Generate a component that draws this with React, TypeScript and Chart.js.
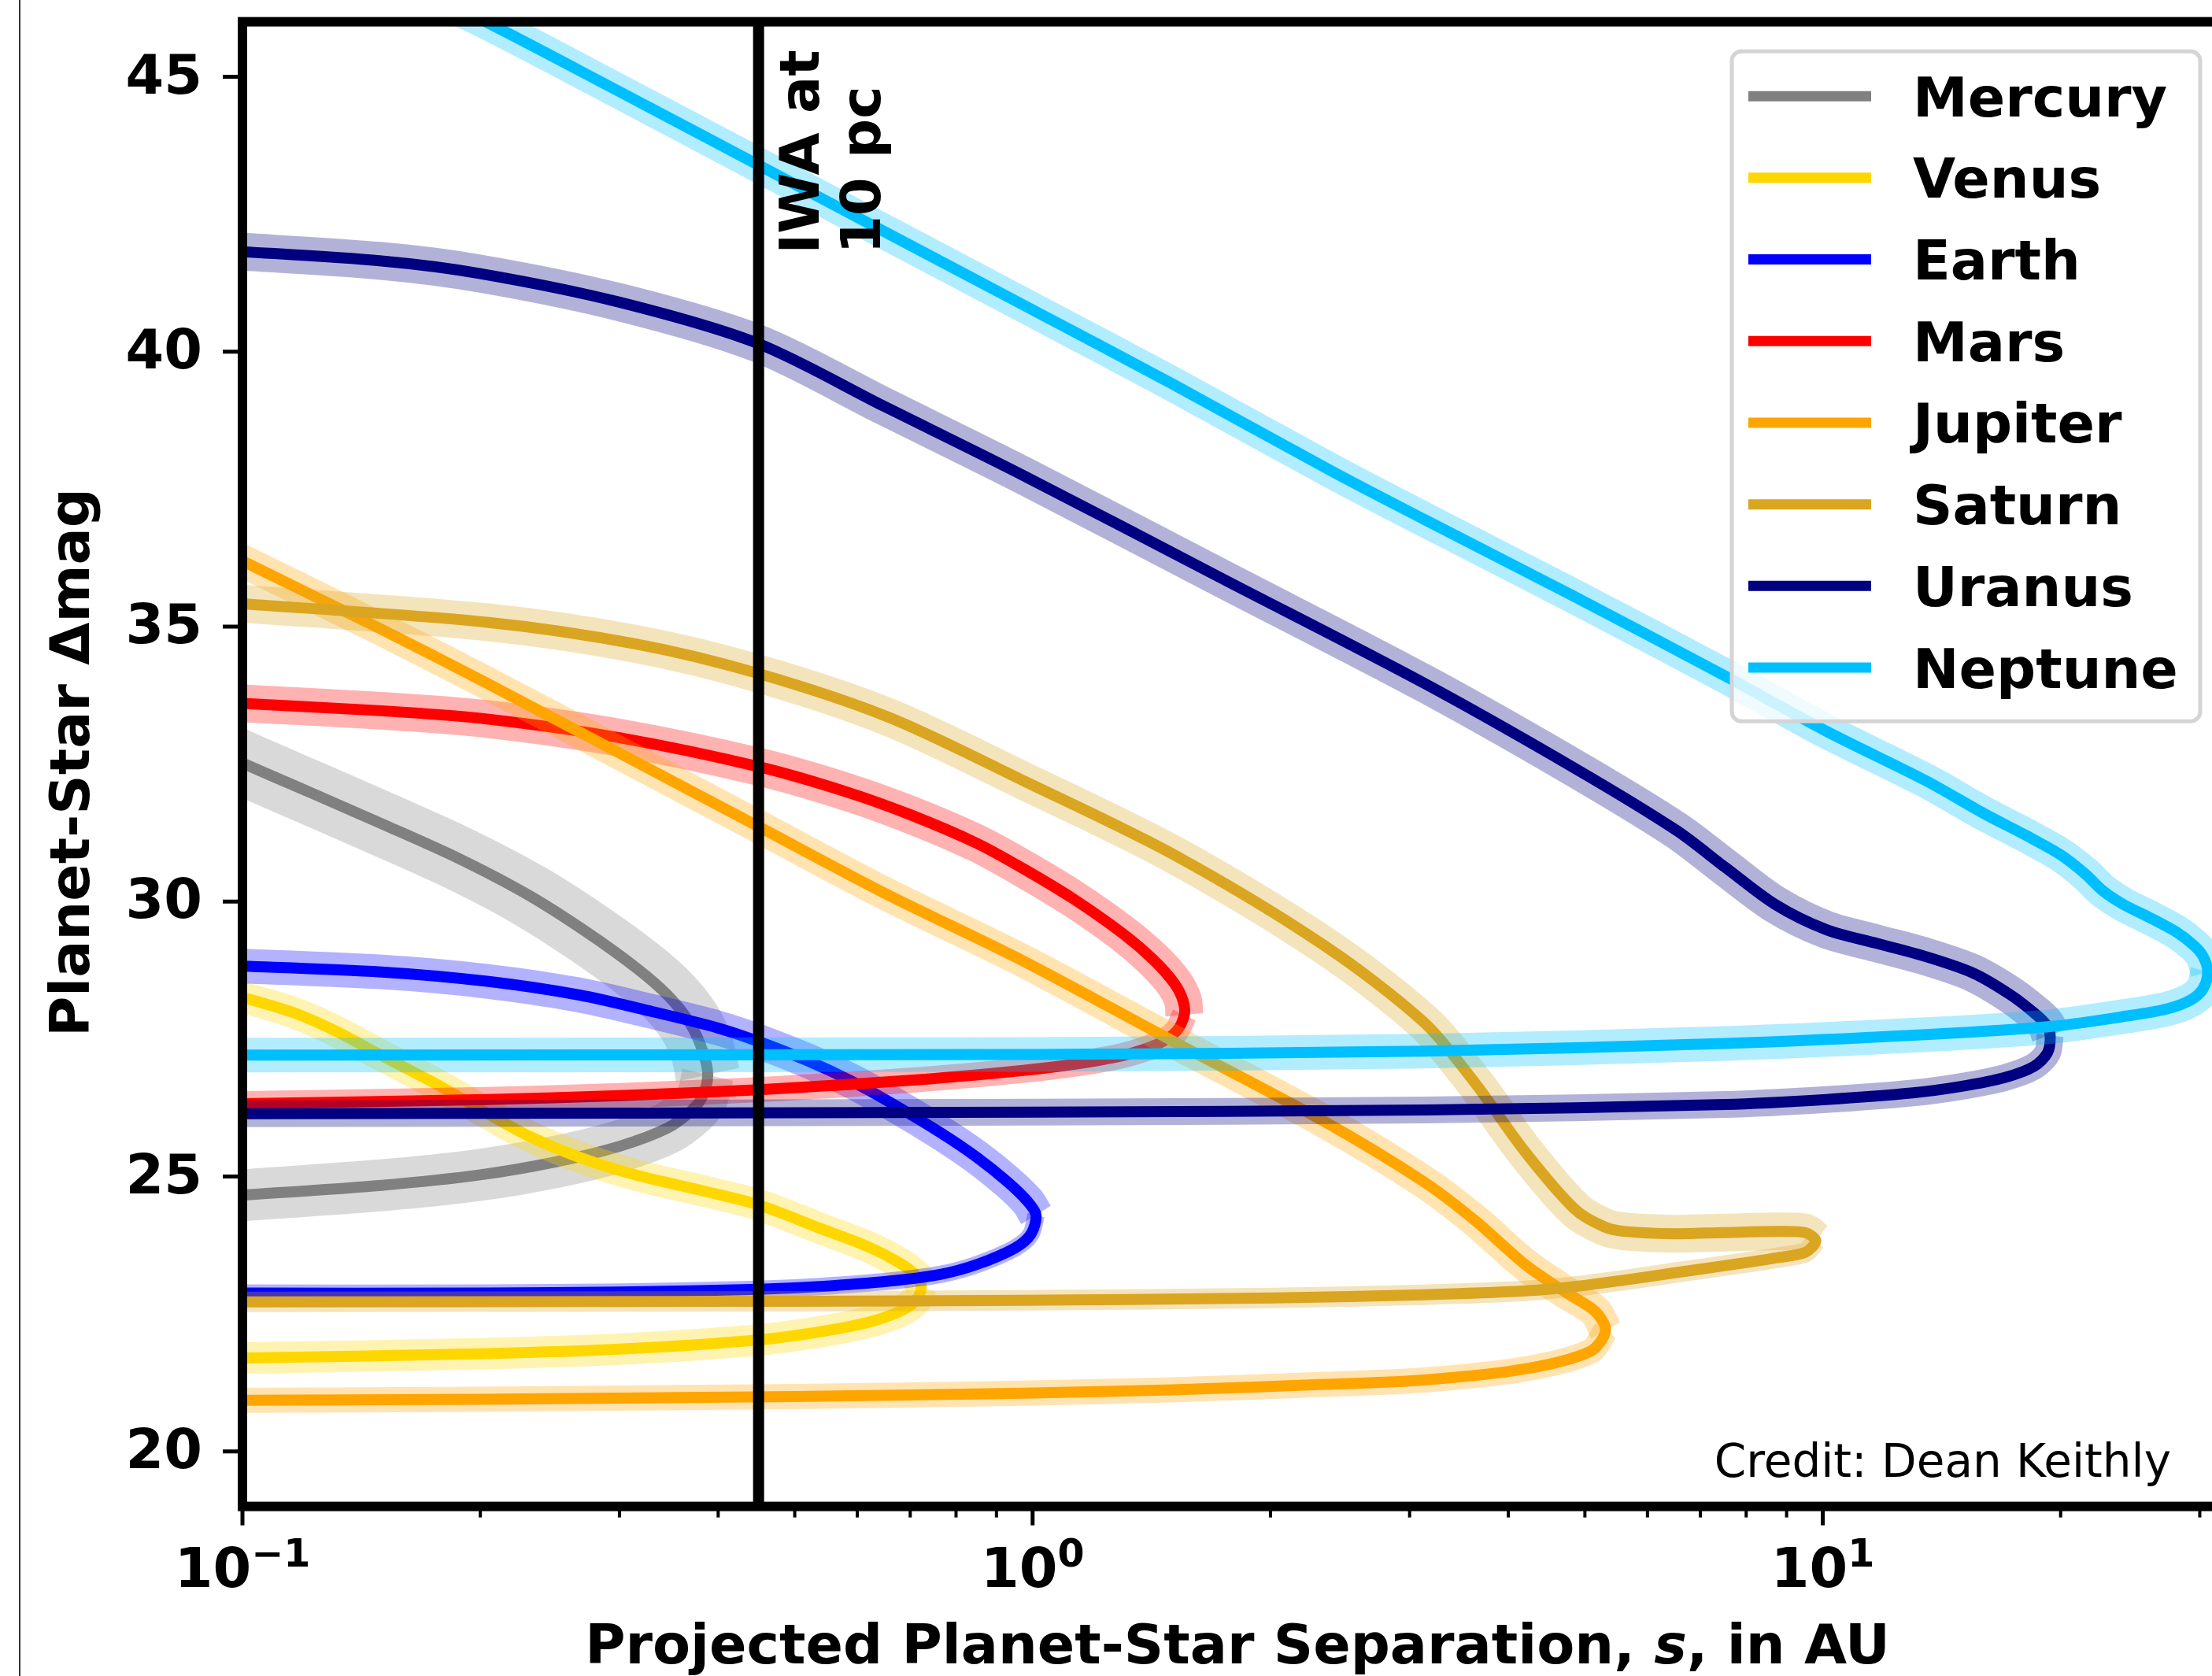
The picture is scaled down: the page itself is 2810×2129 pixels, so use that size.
import React, { useEffect, useRef } from "react";
import { Chart, registerables } from "chart.js";

Chart.register(...registerables);

type Pt = [number, number];

// ---------- data: [projected separation s (AU), planet-star delta-mag] ----------
// each upper branch runs from small s out to the maximum separation,
// each lower branch runs from that turning point back to small s

const PLANETS = ["Mercury", "Venus", "Earth", "Mars", "Jupiter", "Saturn", "Uranus", "Neptune"];
const COLORS = ["#808080", "#FFD700", "#0000FF", "#FF0000", "#FFA500", "#DAA520", "#000080", "#00BFFF"];

const mercuryUpper: Pt[] = [[0.095, 32.68], [0.1, 32.52], [0.122, 31.98], [0.152, 31.38], [0.188, 30.78], [0.23, 30.12], [0.273, 29.44], [0.316, 28.78], [0.345, 28.3], [0.368, 27.8], [0.382, 27.3], [0.388, 26.85]];
const mercuryLower: Pt[] = [[0.388, 26.85], [0.382, 26.45], [0.37, 26.2], [0.345, 25.88], [0.3, 25.55], [0.25, 25.27], [0.2, 25.03], [0.15, 24.84], [0.1, 24.66], [0.095, 24.64]];

const venusUpper: Pt[] = [[0.095, 28.35], [0.115, 28.0], [0.131, 27.65], [0.15, 27.2], [0.176, 26.68], [0.204, 26.15], [0.23, 25.74], [0.267, 25.35], [0.316, 25.02], [0.38, 24.75], [0.451, 24.48], [0.54, 24.05], [0.62, 23.72], [0.68, 23.42], [0.712, 23.2], [0.723, 23.0]];
const venusLower: Pt[] = [[0.723, 23.0], [0.712, 22.75], [0.68, 22.55], [0.62, 22.35], [0.54, 22.18], [0.451, 22.03], [0.3, 21.86], [0.204, 21.78], [0.101, 21.7], [0.095, 21.7]];

const earthUpper: Pt[] = [[0.095, 28.84], [0.15, 28.72], [0.204, 28.55], [0.267, 28.3], [0.33, 28.0], [0.4, 27.7], [0.451, 27.45], [0.52, 27.1], [0.587, 26.75], [0.66, 26.35], [0.764, 25.8], [0.85, 25.35], [0.93, 24.9], [0.985, 24.55], [1.01, 24.3]];
const earthLower: Pt[] = [[1.01, 24.3], [0.995, 23.95], [0.95, 23.7], [0.85, 23.4], [0.764, 23.22], [0.66, 23.1], [0.538, 23.0], [0.451, 22.95], [0.3, 22.9], [0.204, 22.88], [0.095, 22.88]];

const marsUpper: Pt[] = [[0.095, 33.62], [0.15, 33.47], [0.204, 33.32], [0.3, 32.98], [0.451, 32.45], [0.58, 32.0], [0.7, 31.58], [0.85, 31.06], [0.973, 30.6], [1.126, 30.05], [1.3, 29.42], [1.42, 28.95], [1.51, 28.52], [1.55, 28.2], [1.556, 27.94]];
const marsLower: Pt[] = [[1.556, 27.94], [1.52, 27.64], [1.44, 27.41], [1.3, 27.2], [1.126, 27.04], [0.973, 26.93], [0.7, 26.75], [0.451, 26.58], [0.3, 26.47], [0.204, 26.4], [0.095, 26.32]];

const jupiterUpper: Pt[] = [[0.095, 36.35], [0.15, 34.95], [0.204, 33.97], [0.3, 32.7], [0.449, 31.37], [0.65, 30.15], [0.973, 28.92], [1.51, 27.45], [2.34, 26.0], [3.13, 24.9], [3.63, 24.2], [4.2, 23.4], [4.72, 22.9], [5.15, 22.55], [5.31, 22.2]];
const jupiterLower: Pt[] = [[5.31, 22.2], [5.08, 21.82], [4.2, 21.5], [3.13, 21.3], [2.34, 21.22], [1.5, 21.12], [0.973, 21.06], [0.5, 21.0], [0.2, 20.95], [0.095, 20.93]];

const saturnUpper: Pt[] = [[0.095, 35.44], [0.204, 35.08], [0.316, 34.68], [0.449, 34.15], [0.658, 33.35], [0.973, 32.2], [1.51, 30.85], [2.34, 29.2], [3.13, 27.8], [3.63, 26.7], [4.2, 25.45], [4.86, 24.4], [5.3, 24.08], [5.63, 24.0], [6.5, 23.96], [7.5, 23.98], [8.7, 24.0], [9.5, 23.98], [9.8, 23.83]];
const saturnLower: Pt[] = [[9.8, 23.83], [9.5, 23.62], [8.73, 23.52], [7.53, 23.38], [6.5, 23.25], [5.63, 23.12], [4.86, 23.0], [4.2, 22.92], [3.13, 22.85], [2.02, 22.79], [0.973, 22.75], [0.5, 22.73], [0.095, 22.72]];

const uranusUpper: Pt[] = [[0.095, 41.84], [0.15, 41.65], [0.2, 41.42], [0.3, 40.9], [0.449, 40.15], [0.65, 39.0], [0.973, 37.75], [1.75, 35.85], [3.13, 33.97], [4.86, 32.42], [6.52, 31.3], [7.53, 30.62], [8.7, 29.95], [10.1, 29.49], [11.7, 29.24], [13.5, 29.0], [15.5, 28.7], [17.3, 28.3], [18.6, 27.95], [19.2, 27.75], [19.4, 27.57]];
const uranusLower: Pt[] = [[19.4, 27.57], [19.25, 27.25], [18.5, 27.0], [17.0, 26.8], [15.0, 26.64], [13.0, 26.52], [10.1, 26.4], [7.53, 26.31], [3.13, 26.21], [1.0, 26.17], [0.095, 26.14]];

const neptuneUpper: Pt[] = [[0.17, 46.5], [0.2, 46.05], [0.3, 44.73], [0.449, 43.4], [0.65, 42.18], [1.0, 40.76], [1.5, 39.42], [2.41, 37.8], [3.13, 36.95], [4.86, 35.54], [7.53, 34.1], [10.1, 33.1], [13.5, 32.2], [16.0, 31.6], [18.1, 31.2], [20.0, 30.85], [21.5, 30.5], [22.6, 30.2], [24.0, 29.95], [26.0, 29.7], [28.0, 29.45], [29.5, 29.2], [30.3, 29.0], [30.7, 28.72]];
const neptuneLower: Pt[] = [[30.7, 28.72], [30.3, 28.42], [29.3, 28.22], [27.3, 28.05], [24.3, 27.92], [19.5, 27.73], [13.5, 27.58], [7.53, 27.42], [3.13, 27.28], [1.0, 27.22], [0.095, 27.21]];

const IWA_S = 0.45;
const IWA_LABEL = ["IWA at", "10 pc"];

const X_MIN = 0.1;
const X_MAX = 33;
const Y_MIN = 19;
const Y_MAX = 46;
const Y_TICKS = [20, 25, 30, 35, 40, 45];
const X_DECADES = [0.1, 1, 10];
const X_DECADE_LABELS: [string, string][] = [["10", "\u22121"], ["10", "0"], ["10", "1"]];
const X_MINOR = [0.2, 0.3, 0.4, 0.5, 0.6, 0.7, 0.8, 0.9, 2, 3, 4, 5, 6, 7, 8, 9, 20, 30];

const X_TITLE: [string, string, string] = ["Projected Planet-Star Separation, ", "s", ", in AU"];
const Y_TITLE = "Planet-Star \u0394mag";
const CREDIT = "Credit: Dean Keithly";

// ---------- styles ----------
const UPPERS = [mercuryUpper, venusUpper, earthUpper, marsUpper, jupiterUpper, saturnUpper, uranusUpper, neptuneUpper];
const LOWERS = [mercuryLower, venusLower, earthLower, marsLower, jupiterLower, saturnLower, uranusLower, neptuneLower];
const BAND_UP = [82, 40, 44, 48, 42, 48, 48, 44];
const BAND_LO = [66, 40, 22, 32, 32, 26, 34, 44];
const LINE_W = 14;

const CANVAS_W = 2850;
const CANVAS_H = 2129;
const PAD = { left: 308, right: CANVAS_W - 2836, top: 27.65, bottom: CANVAS_H - 1913.6 };
const FONT = '"DejaVu Sans", "Liberation Sans", sans-serif';

function rgba(hex: string, a: number): string {
  const n = parseInt(hex.slice(1), 16);
  return `rgba(${(n >> 16) & 255},${(n >> 8) & 255},${n & 255},${a})`;
}

const decorPlugin = {
  id: "decor",
  afterDraw(chart: any) {
    const ctx: CanvasRenderingContext2D = chart.ctx;
    const xs = chart.scales.x;
    const ys = chart.scales.y;
    const { left, right, top, bottom } = chart.chartArea;
    ctx.save();
    ctx.fillStyle = "#000";
    ctx.strokeStyle = "#000";
    ctx.lineCap = "butt";

    const seg = (x1: number, y1: number, x2: number, y2: number) => {
      ctx.beginPath();
      ctx.moveTo(x1, y1);
      ctx.lineTo(x2, y2);
      ctx.stroke();
    };

    // y ticks + labels
    ctx.lineWidth = 5;
    ctx.font = `bold 70px ${FONT}`;
    ctx.textAlign = "right";
    ctx.textBaseline = "middle";
    Y_TICKS.forEach((v) => {
      const y = ys.getPixelForValue(v);
      seg(left, y, left - 25, y);
      ctx.fillText(String(v), left - 51, y + 3);
    });

    // x minor ticks
    ctx.lineWidth = 4;
    X_MINOR.forEach((v) => {
      const x = xs.getPixelForValue(v);
      if (x <= right) seg(x, bottom, x, bottom + 14);
    });
    // x major ticks + labels
    ctx.lineWidth = 5;
    ctx.textAlign = "left";
    ctx.textBaseline = "alphabetic";
    X_DECADES.forEach((v, i) => {
      const x = xs.getPixelForValue(v);
      seg(x, bottom, x, bottom + 24);
      const [base, exp] = X_DECADE_LABELS[i];
      ctx.font = `bold 70px ${FONT}`;
      const wb = ctx.measureText(base).width;
      ctx.font = `bold 49px ${FONT}`;
      const we = ctx.measureText(exp).width;
      const x0 = x - (wb + we) / 2;
      ctx.font = `bold 70px ${FONT}`;
      ctx.fillText(base, x0, bottom + 102.5);
      ctx.font = `bold 49px ${FONT}`;
      ctx.fillText(exp, x0 + wb, bottom + 76.5);
    });

    // spines
    ctx.lineWidth = 12;
    ctx.lineJoin = "miter";
    ctx.strokeRect(left, top, right - left, bottom - top);

    // x title (with italic s)
    const bold = `bold 70px ${FONT}`;
    const boldIt = `italic bold 70px ${FONT}`;
    ctx.font = bold;
    const wa = ctx.measureText(X_TITLE[0]).width;
    const wc = ctx.measureText(X_TITLE[2]).width;
    ctx.font = boldIt;
    const wsI = ctx.measureText(X_TITLE[1]).width;
    let tx = (left + right) / 2 - (wa + wsI + wc) / 2;
    const ty = bottom + 199.5;
    ctx.font = bold;
    ctx.fillText(X_TITLE[0], tx, ty);
    tx += wa;
    ctx.font = boldIt;
    ctx.fillText(X_TITLE[1], tx, ty);
    tx += wsI;
    ctx.font = bold;
    ctx.fillText(X_TITLE[2], tx, ty);

    // y title
    ctx.save();
    ctx.translate(113, (top + bottom) / 2 - 2);
    ctx.rotate(-Math.PI / 2);
    ctx.textAlign = "center";
    ctx.font = bold;
    ctx.fillText(Y_TITLE, 0, 0);
    ctx.restore();

    // IWA annotation
    const xi = xs.getPixelForValue(IWA_S);
    IWA_LABEL.forEach((t, i) => {
      ctx.save();
      ctx.translate(xi + 76 + i * 78, 322.7);
      ctx.rotate(-Math.PI / 2);
      ctx.textAlign = "left";
      ctx.font = bold;
      ctx.fillText(t, 0, 0);
      ctx.restore();
    });

    // credit
    ctx.font = `58px ${FONT}`;
    ctx.textAlign = "right";
    ctx.fillText(CREDIT, right - 78, bottom - 37.5);

    // legend
    const bx = right - 636;
    const by = top + 37.5;
    const bw = 595;
    const bh = 851;
    ctx.beginPath();
    ctx.roundRect(bx, by, bw, bh, 12);
    ctx.fillStyle = "rgba(255,255,255,0.8)";
    ctx.fill();
    ctx.lineWidth = 5;
    ctx.strokeStyle = "#d4d4d4";
    ctx.stroke();
    ctx.textAlign = "left";
    ctx.font = bold;
    PLANETS.forEach((name, i) => {
      const ry = by + 57 + i * 103.7;
      ctx.strokeStyle = COLORS[i];
      ctx.lineWidth = 13;
      seg(bx + 21, ry, bx + 177, ry);
      ctx.fillStyle = "#000";
      ctx.fillText(name, bx + 230, ry + 25.5);
    });

    ctx.restore();
  },
};

export default function App() {
  const ref = useRef<HTMLCanvasElement>(null);

  useEffect(() => {
    const canvas = ref.current;
    if (!canvas) return;
    const datasets: any[] = [];
    const total = PLANETS.length * 3 + 2;
    let k = 0;
    const common = {
      showLine: true,
      pointRadius: 0,
      pointHoverRadius: 0,
      fill: false,
      tension: 0.3,
      borderJoinStyle: "round",
      borderCapStyle: "butt",
      clip: 0,
    };
    PLANETS.forEach((name, i) => {
      const up = UPPERS[i].map(([x, y]) => ({ x, y }));
      const lo = LOWERS[i].map(([x, y]) => ({ x, y }));
      datasets.push({ ...common, label: name + " band+", data: up, borderColor: rgba(COLORS[i], 0.3), borderWidth: BAND_UP[i], order: total - k++ });
      datasets.push({ ...common, label: name + " band-", data: lo, borderColor: rgba(COLORS[i], 0.3), borderWidth: BAND_LO[i], order: total - k++ });
      datasets.push({ ...common, label: name, data: up.concat(lo.slice(1)), borderColor: COLORS[i], borderWidth: LINE_W, order: total - k++ });
    });
    datasets.push({
      ...common,
      tension: 0,
      label: "IWA",
      data: [{ x: IWA_S, y: Y_MIN }, { x: IWA_S, y: Y_MAX }],
      borderColor: "#000",
      borderWidth: 14,
      order: total - k++,
    });

    const chart = new Chart(canvas, {
      type: "scatter",
      data: { datasets },
      options: {
        responsive: false,
        maintainAspectRatio: false,
        devicePixelRatio: 1,
        animation: false,
        events: [],
        layout: { padding: PAD },
        plugins: { legend: { display: false }, tooltip: { enabled: false }, title: { display: false } },
        scales: {
          x: { type: "logarithmic", min: X_MIN, max: X_MAX, display: false },
          y: { type: "linear", min: Y_MIN, max: Y_MAX, display: false },
        },
      } as any,
      plugins: [decorPlugin],
    });
    return () => chart.destroy();
  }, []);

  return (
    <div style={{ position: "fixed", left: 0, top: 0, width: 2810, height: 2129, overflow: "hidden", background: "#fff" }}>
      <canvas ref={ref} width={CANVAS_W} height={CANVAS_H} style={{ display: "block", width: CANVAS_W, height: CANVAS_H }} />
      <div style={{ position: "absolute", left: 24, top: 0, width: 2, height: 2129, background: "#3c2f2f" }} />
    </div>
  );
}
